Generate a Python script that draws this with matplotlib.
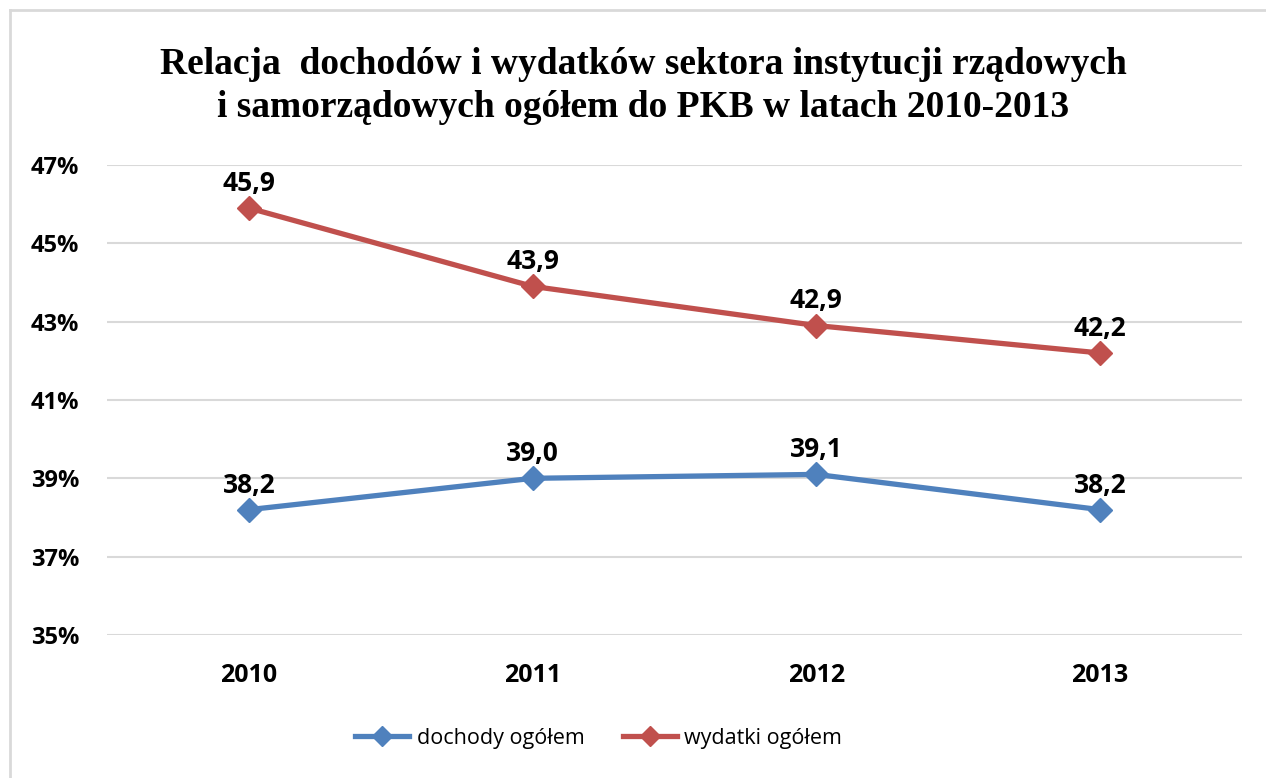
import matplotlib
matplotlib.use("Agg")
import matplotlib.pyplot as plt
from matplotlib.lines import Line2D

years = ["2010", "2011", "2012", "2013"]
dochody = [38.2, 39.0, 39.1, 38.2]
wydatki = [45.9, 43.9, 42.9, 42.2]
y_ticks = [35, 37, 39, 41, 43, 45, 47]

blue = "#4F81BD"
red = "#C0504D"
grid_col = "#D9D9D9"

fig = plt.figure(figsize=(12.66, 7.78), dpi=100)
ax = fig.add_axes([0.0845, 0.1838, 0.8965, 0.6042])

# outer frame (only left and top edges visible in the reference)
fig.add_artist(Line2D([10 / 1266, 10 / 1266], [0, 1 - 10 / 778],
                      transform=fig.transFigure, color=grid_col, lw=2))
fig.add_artist(Line2D([10 / 1266, 1], [1 - 10 / 778, 1 - 10 / 778],
                      transform=fig.transFigure, color=grid_col, lw=2))

x = [i + 0.5 for i in range(len(years))]

ax.plot(x, dochody, color=blue, lw=3.8, marker="D", markersize=12,
        label="dochody ogółem", zorder=3)
ax.plot(x, wydatki, color=red, lw=3.8, marker="D", markersize=12,
        label="wydatki ogółem", zorder=3)

for series in (dochody, wydatki):
    for xi, v in zip(x, series):
        ax.annotate(f"{v:.1f}".replace(".", ","), (xi, v), xytext=(0, 8),
                    textcoords="offset points", ha="center", va="bottom",
                    fontsize=19, fontweight="bold", family="Open Sans")

ax.set_xlim(0, 4)
ax.set_ylim(35, 47)
ax.set_yticks(y_ticks)
ax.set_yticklabels([f"{t}%" for t in y_ticks])
ax.set_xticks(x)
ax.set_xticklabels(years)
ax.grid(axis="y", color=grid_col, lw=1.5)
ax.set_axisbelow(True)
for s in ax.spines.values():
    s.set_visible(False)
ax.tick_params(length=0)
ax.tick_params(axis="y", pad=20)
ax.tick_params(axis="x", pad=20)
for lab in ax.get_xticklabels():
    lab.set_fontsize(18)
    lab.set_fontweight("bold")
    lab.set_family("Open Sans")
for lab in ax.get_yticklabels():
    lab.set_fontsize(17)
    lab.set_fontweight("bold")
    lab.set_family("Open Sans")

fig.text(0.508, 0.94, "Relacja  dochodów i wydatków sektora instytucji rządowych\n"
         "i samorządowych ogółem do PKB w latach 2010-2013",
         ha="center", va="top", fontsize=27, fontweight="bold",
         family="Liberation Serif", linespacing=1.32)

leg = fig.legend(loc="center", bbox_to_anchor=(0.473, 0.051), ncol=2,
                 frameon=False, handlelength=2.5, columnspacing=1.8,
                 handletextpad=0.35, markerscale=0.85,
                 prop={"family": "Open Sans", "size": 15.5})

fig.savefig("out.png", dpi=100)
